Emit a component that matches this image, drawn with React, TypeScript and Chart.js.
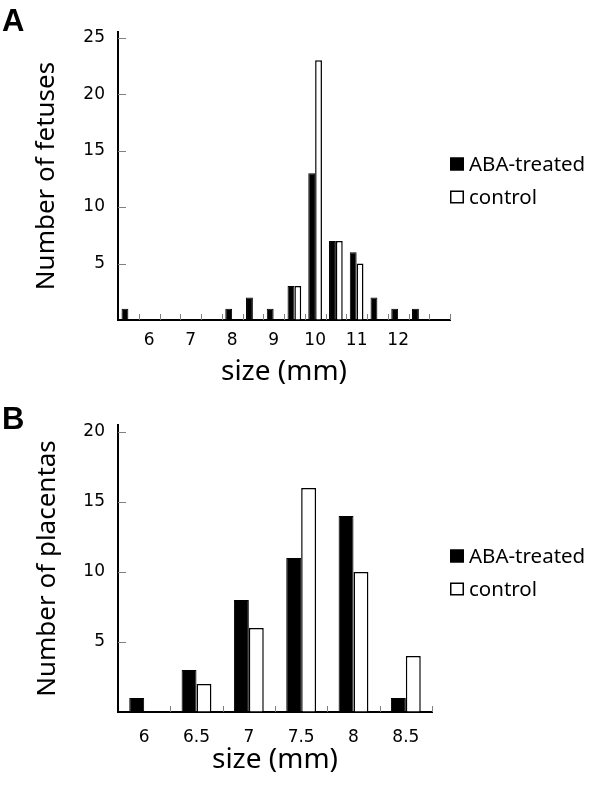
import React, { useEffect, useRef } from "react";
import { Chart, registerables } from "chart.js";

Chart.register(...registerables);

// ---------- Data ----------
const fetusSizes = ["5.5", "6", "6.5", "7", "7.5", "8", "8.5", "9", "9.5", "10", "10.5", "11", "11.5", "12", "12.5", "13"];
const fetusABA = [1, 0, 0, 0, 0, 1, 2, 1, 3, 13, 7, 6, 2, 1, 1, 0];
const fetusControl = [0, 0, 0, 0, 0, 0, 0, 0, 3, 23, 7, 5, 0, 0, 0, 0];

const placentaSizes = ["6", "6.5", "7", "7.5", "8", "8.5"];
const placentaABA = [1, 3, 8, 11, 14, 1];
const placentaControl = [0, 2, 6, 16, 10, 4];

const seriesNames = ["ABA-treated", "control"];
const xTitle = "size (mm)";
const yTitleA = "Number of fetuses";
const yTitleB = "Number of placentas";

const FONT = "'Noto Sans', 'DejaVu Sans', sans-serif";
const TICK_FONT = "'DejaVu Sans', 'Noto Sans', sans-serif";

// inward tick marks on both axes
const inwardTicks = {
  id: "inwardTicks",
  beforeDatasetsDraw(chart: any, _args: any, opts: any) {
    const { ctx, chartArea } = chart;
    const xs = chart.scales.x;
    const ys = chart.scales.y;
    ctx.save();
    ctx.strokeStyle = opts.color || "#777";
    ctx.lineWidth = 1;
    ctx.beginPath();
    ys.ticks.forEach((t: any) => {
      if (t.value === 0) return;
      const py = Math.round(ys.getPixelForValue(t.value)) + 0.5;
      ctx.moveTo(chartArea.left, py);
      ctx.lineTo(chartArea.left + opts.yLen, py);
    });
    const n = chart.data.labels.length;
    const half = (xs.getPixelForValue(1) - xs.getPixelForValue(0)) / 2;
    for (let i = 0; i < n; i++) {
      const px = Math.round(xs.getPixelForValue(i) + half) + 0.5;
      ctx.moveTo(px, chartArea.bottom);
      ctx.lineTo(px, chartArea.bottom - opts.xLen);
    }
    ctx.stroke();
    ctx.restore();
  },
};

// simple box legend drawn at a fixed place to the right of the plot
const boxLegend = {
  id: "boxLegend",
  afterDraw(chart: any, _args: any, opts: any) {
    const { ctx } = chart;
    ctx.save();
    ctx.font = `${opts.fontSize}px ${FONT}`;
    ctx.textBaseline = "middle";
    ctx.textAlign = "left";
    chart.data.datasets.forEach((ds: any, i: number) => {
      const cy = opts.y + i * opts.gap;
      const bx = opts.x;
      const by = cy - opts.boxH / 2;
      ctx.fillStyle = ds.backgroundColor;
      ctx.fillRect(bx, by, opts.boxW, opts.boxH);
      ctx.strokeStyle = "#000";
      ctx.lineWidth = 1.5;
      ctx.strokeRect(bx + 0.75, by + 0.75, opts.boxW - 1.5, opts.boxH - 1.5);
      ctx.fillStyle = "#000";
      ctx.fillText(ds.label, bx + opts.boxW + opts.textGap, cy + opts.textDy);
    });
    ctx.restore();
  },
};

function makeConfig(p: {
  labels: string[];
  aba: number[];
  ctrl: number[];
  yMax: number;
  yTitle: string;
  padTop: number;
  padRight: number;
  xHeight: number;
  xTickPad: number;
  xTitlePad: number;
  yTitlePad: number;
  catPct: number;
  legendY: number;
  integerOnly: boolean;
}) {
  return {
    type: "bar",
    data: {
      labels: p.labels,
      datasets: [
        {
          label: seriesNames[0],
          data: p.aba.map((v) => (v === 0 ? null : v)),
          backgroundColor: "#000",
          borderColor: "#000",
          borderWidth: 1,
          categoryPercentage: p.catPct,
          barPercentage: 1,
        },
        {
          label: seriesNames[1],
          data: p.ctrl.map((v) => (v === 0 ? null : v)),
          backgroundColor: "#fff",
          borderColor: "#000",
          borderWidth: 1.5,
          categoryPercentage: p.catPct,
          barPercentage: 1,
        },
      ],
    },
    options: {
      responsive: false,
      animation: false,
      devicePixelRatio: 1,
      layout: { padding: { left: 0, top: p.padTop, right: p.padRight, bottom: 0 } },
      plugins: {
        legend: { display: false },
        tooltip: { enabled: false },
        inwardTicks: { yLen: 8, xLen: 6, color: "#808080" },
        boxLegend: { x: 450, y: p.legendY, gap: 33, boxW: 14, boxH: 13, textGap: 5, fontSize: 20.5, textDy: 1 },
      },
      scales: {
        x: {
          type: "category",
          offset: true,
          grid: { display: true, drawOnChartArea: false, drawTicks: false },
          border: { display: true, color: "#000", width: 2 },
          ticks: {
            autoSkip: false,
            maxRotation: 0,
            minRotation: 0,
            padding: p.xTickPad,
            color: "#000",
            font: { family: TICK_FONT, size: 17 },
            callback: function (this: any, v: any) {
              const l = this.getLabelForValue(v);
              if (!p.integerOnly) return l;
              return Number.isInteger(Number(l)) && l !== p.labels[p.labels.length - 1] ? l : "";
            },
          },
          title: {
            display: true,
            text: xTitle,
            color: "#000",
            font: { family: FONT, size: 28 },
            padding: { top: 0, bottom: p.xTitlePad },
          },
          afterFit: (s: any) => {
            s.height = p.xHeight;
          },
        },
        y: {
          min: 0,
          max: p.yMax,
          grid: { display: true, drawOnChartArea: false, drawTicks: false },
          border: { display: true, color: "#000", width: 2 },
          ticks: {
            stepSize: 5,
            includeBounds: false,
            padding: 13,
            color: "#000",
            font: { family: TICK_FONT, size: 17 },
            callback: (v: any) => (v === 0 ? "" : String(v)),
          },
          title: {
            display: true,
            text: p.yTitle,
            color: "#000",
            font: { family: FONT, size: 26 },
            padding: { top: p.yTitlePad, bottom: 0 },
          },
          afterFit: (s: any) => {
            s.width = 118;
          },
        },
      },
    },
    plugins: [inwardTicks, boxLegend],
  } as any;
}

function Panel(props: { top: number; height: number; config: any }) {
  const ref = useRef<HTMLCanvasElement>(null);
  useEffect(() => {
    const c = new Chart(ref.current as HTMLCanvasElement, props.config);
    return () => c.destroy();
  }, []);
  return (
    <canvas
      ref={ref}
      width={600}
      height={props.height}
      style={{ position: "absolute", left: 0, top: props.top, width: 600, height: props.height, display: "block" }}
    />
  );
}

const letterStyle: React.CSSProperties = {
  position: "absolute",
  left: 2,
  fontFamily: "'Liberation Sans', Arial, sans-serif",
  fontWeight: "bold",
  fontSize: 31,
  lineHeight: "31px",
  color: "#000",
  margin: 0,
};

export default function App() {
  const cfgA = makeConfig({
    labels: fetusSizes,
    aba: fetusABA,
    ctrl: fetusControl,
    yMax: 25.5,
    yTitle: yTitleA,
    padTop: 32,
    padRight: 150,
    xHeight: 74,
    xTickPad: 10,
    xTitlePad: 5,
    yTitlePad: 31,
    catPct: 0.66,
    legendY: 164,
    integerOnly: true,
  });
  const cfgB = makeConfig({
    labels: placentaSizes,
    aba: placentaABA,
    ctrl: placentaControl,
    yMax: 20.5,
    yTitle: yTitleB,
    padTop: 31,
    padRight: 168,
    xHeight: 77,
    xTickPad: 15,
    xTitlePad: 12,
    yTitlePad: 32,
    catPct: 0.57,
    legendY: 162,
    integerOnly: false,
  });
  return (
    <div style={{ position: "absolute", left: 0, top: 0, width: 600, height: 789, background: "#fff", overflow: "hidden" }}>
      <Panel top={0} height={394} config={cfgA} />
      <Panel top={394} height={395} config={cfgB} />
      <div style={{ ...letterStyle, top: 5 }}>A</div>
      <div style={{ ...letterStyle, top: 403 }}>B</div>
    </div>
  );
}
